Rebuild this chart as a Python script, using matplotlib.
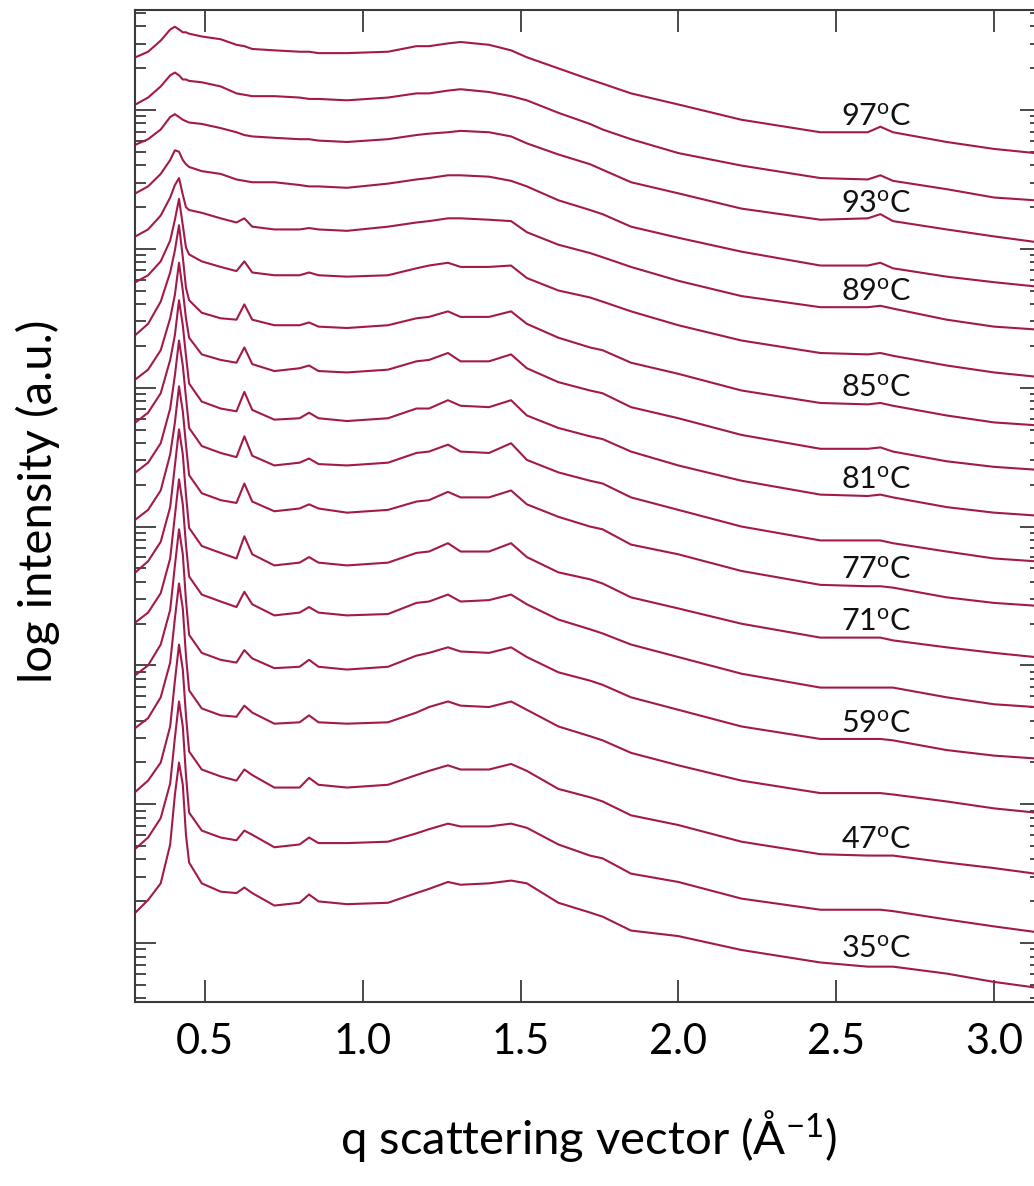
import numpy as np
import matplotlib
matplotlib.use('agg')
import matplotlib.pyplot as plt
from matplotlib.ticker import LogLocator, NullFormatter

plt.rcParams['font.family'] = ['Lato', 'DejaVu Sans']
plt.rcParams['mathtext.fontset'] = 'custom'
plt.rcParams['mathtext.rm'] = 'Lato'
plt.rcParams['mathtext.it'] = 'Lato:italic'

# scattering vector q (1/Angstrom), shared by all curves
q = [0.28, 0.32, 0.36, 0.39, 0.405, 0.418, 0.43, 0.44, 0.45, 0.49,
     0.55, 0.60, 0.625, 0.65, 0.72, 0.80, 0.83, 0.86, 0.95, 1.08,
     1.17, 1.21, 1.27, 1.31, 1.40, 1.47, 1.52, 1.62, 1.72, 1.76,
     1.85, 2.00, 2.20, 2.45, 2.60, 2.64, 2.68, 2.85, 3.00, 3.13]

# log10 intensity (a.u., curves stacked), top curve first
logI_1 = [6.38, 6.42, 6.50, 6.58, 6.60, 6.58, 6.56, 6.56, 6.55, 6.53, 6.51, 6.47, 6.46, 6.44, 6.43, 6.42, 6.42, 6.41, 6.41, 6.42,
          6.46, 6.46, 6.48, 6.49, 6.47, 6.43, 6.38, 6.30, 6.22, 6.19, 6.12, 6.04, 5.93, 5.84, 5.84, 5.88, 5.84, 5.77, 5.72, 5.69]
logI_2 = [6.04, 6.09, 6.17, 6.25, 6.27, 6.25, 6.22, 6.22, 6.21, 6.20, 6.17, 6.12, 6.11, 6.10, 6.10, 6.09, 6.08, 6.08, 6.07, 6.09,
          6.12, 6.12, 6.14, 6.15, 6.13, 6.10, 6.07, 5.98, 5.90, 5.86, 5.79, 5.69, 5.60, 5.51, 5.50, 5.53, 5.49, 5.43, 5.37, 5.35]
logI_3 = [5.75, 5.79, 5.86, 5.95, 5.97, 5.95, 5.93, 5.92, 5.91, 5.90, 5.87, 5.84, 5.82, 5.81, 5.80, 5.79, 5.79, 5.78, 5.77, 5.79,
          5.82, 5.83, 5.84, 5.85, 5.84, 5.81, 5.76, 5.68, 5.61, 5.57, 5.48, 5.40, 5.29, 5.21, 5.22, 5.25, 5.20, 5.14, 5.09, 5.05]
logI_4 = [5.40, 5.45, 5.54, 5.64, 5.71, 5.70, 5.64, 5.61, 5.59, 5.56, 5.54, 5.50, 5.49, 5.48, 5.48, 5.46, 5.45, 5.45, 5.44, 5.47,
          5.50, 5.51, 5.53, 5.53, 5.52, 5.49, 5.45, 5.35, 5.28, 5.25, 5.16, 5.08, 4.98, 4.88, 4.88, 4.90, 4.86, 4.80, 4.76, 4.73]
logI_5 = [5.09, 5.14, 5.24, 5.37, 5.46, 5.51, 5.39, 5.30, 5.28, 5.26, 5.22, 5.19, 5.22, 5.16, 5.14, 5.14, 5.15, 5.14, 5.13, 5.16,
          5.19, 5.20, 5.22, 5.22, 5.21, 5.20, 5.12, 5.03, 4.97, 4.94, 4.87, 4.77, 4.66, 4.58, 4.58, 4.59, 4.57, 4.49, 4.44, 4.42]
logI_6 = [4.76, 4.81, 4.91, 5.06, 5.21, 5.36, 5.17, 5.01, 4.96, 4.91, 4.87, 4.84, 4.91, 4.83, 4.81, 4.81, 4.83, 4.81, 4.80, 4.81,
          4.86, 4.88, 4.90, 4.87, 4.87, 4.88, 4.79, 4.70, 4.65, 4.62, 4.55, 4.45, 4.34, 4.25, 4.24, 4.25, 4.23, 4.16, 4.11, 4.08]
logI_7 = [4.38, 4.46, 4.62, 4.83, 4.99, 5.17, 4.94, 4.72, 4.63, 4.54, 4.50, 4.49, 4.60, 4.49, 4.45, 4.45, 4.47, 4.44, 4.43, 4.45,
          4.50, 4.51, 4.55, 4.51, 4.51, 4.55, 4.46, 4.36, 4.29, 4.27, 4.18, 4.10, 3.98, 3.89, 3.88, 3.89, 3.87, 3.80, 3.75, 3.73]
logI_8 = [4.06, 4.13, 4.27, 4.50, 4.67, 4.90, 4.70, 4.50, 4.36, 4.24, 4.20, 4.18, 4.29, 4.17, 4.12, 4.14, 4.16, 4.12, 4.11, 4.13,
          4.19, 4.20, 4.25, 4.19, 4.19, 4.24, 4.14, 4.04, 3.98, 3.96, 3.86, 3.78, 3.66, 3.56, 3.56, 3.57, 3.54, 3.47, 3.43, 3.41]
logI_9 = [3.75, 3.82, 3.96, 4.20, 4.38, 4.63, 4.45, 4.23, 4.03, 3.90, 3.85, 3.83, 3.97, 3.84, 3.77, 3.78, 3.82, 3.78, 3.76, 3.78,
          3.85, 3.85, 3.91, 3.87, 3.86, 3.91, 3.80, 3.71, 3.65, 3.63, 3.54, 3.44, 3.33, 3.23, 3.22, 3.23, 3.21, 3.14, 3.10, 3.08]
logI_10 = [3.39, 3.46, 3.60, 3.85, 4.09, 4.34, 4.16, 3.93, 3.71, 3.58, 3.53, 3.50, 3.65, 3.51, 3.44, 3.46, 3.49, 3.45, 3.44, 3.46,
           3.53, 3.54, 3.59, 3.54, 3.53, 3.60, 3.48, 3.39, 3.33, 3.31, 3.21, 3.12, 3.00, 2.90, 2.90, 2.90, 2.88, 2.82, 2.77, 2.75]
logI_11 = [3.05, 3.12, 3.26, 3.52, 3.75, 4.01, 3.83, 3.59, 3.37, 3.24, 3.19, 3.17, 3.31, 3.18, 3.11, 3.13, 3.16, 3.13, 3.10, 3.12,
           3.18, 3.19, 3.25, 3.21, 3.21, 3.26, 3.16, 3.07, 3.00, 2.98, 2.87, 2.80, 2.68, 2.58, 2.57, 2.57, 2.56, 2.49, 2.45, 2.43]
logI_12 = [2.67, 2.75, 2.89, 3.14, 3.44, 3.70, 3.52, 3.23, 2.99, 2.86, 2.81, 2.77, 2.93, 2.80, 2.72, 2.74, 2.78, 2.74, 2.72, 2.74,
           2.81, 2.82, 2.88, 2.82, 2.82, 2.88, 2.78, 2.67, 2.62, 2.59, 2.49, 2.41, 2.30, 2.20, 2.20, 2.20, 2.18, 2.13, 2.09, 2.06]
logI_13 = [2.31, 2.38, 2.52, 2.77, 3.08, 3.34, 3.16, 2.87, 2.64, 2.51, 2.46, 2.42, 2.53, 2.44, 2.36, 2.38, 2.42, 2.38, 2.36, 2.37,
           2.45, 2.46, 2.51, 2.46, 2.47, 2.51, 2.44, 2.33, 2.26, 2.23, 2.15, 2.06, 1.94, 1.84, 1.84, 1.84, 1.84, 1.77, 1.72, 1.70]
logI_14 = [1.93, 2.00, 2.15, 2.40, 2.72, 2.98, 2.80, 2.47, 2.22, 2.09, 2.04, 2.02, 2.11, 2.05, 1.98, 1.99, 2.04, 1.99, 1.97, 1.99,
           2.07, 2.09, 2.13, 2.10, 2.09, 2.13, 2.06, 1.95, 1.89, 1.86, 1.77, 1.68, 1.56, 1.47, 1.47, 1.47, 1.46, 1.39, 1.35, 1.33]
logI_15 = [1.55, 1.62, 1.77, 2.02, 2.34, 2.59, 2.41, 2.07, 1.82, 1.69, 1.64, 1.63, 1.71, 1.66, 1.58, 1.59, 1.64, 1.59, 1.58, 1.59,
           1.66, 1.70, 1.74, 1.71, 1.70, 1.74, 1.68, 1.56, 1.49, 1.46, 1.37, 1.28, 1.17, 1.08, 1.08, 1.08, 1.07, 1.02, 0.97, 0.94]
logI_16 = [1.09, 1.17, 1.30, 1.56, 1.89, 2.15, 1.97, 1.64, 1.38, 1.25, 1.20, 1.17, 1.25, 1.21, 1.12, 1.12, 1.19, 1.14, 1.12, 1.14,
           1.21, 1.24, 1.28, 1.25, 1.25, 1.29, 1.24, 1.11, 1.05, 1.02, 0.92, 0.85, 0.73, 0.64, 0.63, 0.63, 0.63, 0.58, 0.54, 0.50]
logI_17 = [0.68, 0.76, 0.90, 1.15, 1.48, 1.74, 1.56, 1.21, 0.94, 0.81, 0.76, 0.74, 0.81, 0.78, 0.69, 0.71, 0.76, 0.72, 0.72, 0.73,
           0.79, 0.82, 0.86, 0.84, 0.84, 0.86, 0.83, 0.71, 0.63, 0.61, 0.50, 0.44, 0.32, 0.24, 0.24, 0.24, 0.23, 0.17, 0.12, 0.08]
logI_18 = [0.22, 0.31, 0.43, 0.71, 1.07, 1.30, 1.14, 0.78, 0.58, 0.43, 0.37, 0.36, 0.40, 0.36, 0.27, 0.29, 0.35, 0.30, 0.28, 0.29,
           0.36, 0.39, 0.44, 0.42, 0.43, 0.45, 0.43, 0.29, 0.22, 0.19, 0.09, 0.05, -0.05, -0.14, -0.17, -0.17, -0.17, -0.22, -0.28, -0.32]

# temperature labels (only some curves are labelled in the figure)
temps = ['97', '', '93', '', '89', '', '85', '', '81', '', '77', '71', '', '59', '', '47', '', '35']

xticks = [0.5, 1.0, 1.5, 2.0, 2.5, 3.0]

series = [logI_1, logI_2, logI_3, logI_4, logI_5, logI_6, logI_7, logI_8, logI_9,
          logI_10, logI_11, logI_12, logI_13, logI_14, logI_15, logI_16, logI_17, logI_18]

fig = plt.figure(figsize=(10.34, 11.86), dpi=100)
ax = fig.add_axes([0.1310, 0.1551, 0.8761, 0.8364])

line_color = '#A3194B'
q_arr = np.array(q)
for vals, t in zip(series, temps):
    inten = 10 ** np.array(vals)
    ax.plot(q_arr, inten, color=line_color, lw=1.5)
    if t:
        y_lab = 10 ** np.interp(2.515, q_arr, vals)
        ax.annotate(t + r'$^{\mathrm{o}}$C', xy=(2.515, y_lab), xytext=(0, 4.5),
                    textcoords='offset points', ha='left', va='baseline',
                    fontsize=22, color='#111111')

ax.set_yscale('log')
ax.set_xlim(0.28, 3.15)
ax.set_ylim(10 ** -0.425, 10 ** 6.72)

ax.set_xticks(xticks)
ax.set_xticklabels(['%.1f' % v for v in xticks])
ax.yaxis.set_major_locator(LogLocator(base=10, numticks=20))
ax.yaxis.set_minor_locator(LogLocator(base=10, subs=np.arange(2, 10), numticks=20))
ax.yaxis.set_major_formatter(NullFormatter())
ax.yaxis.set_minor_formatter(NullFormatter())

spine_color = '#3a3a3a'
for s in ax.spines.values():
    s.set_color(spine_color)
    s.set_linewidth(1.5)

ax.tick_params(axis='x', which='major', direction='in', length=16, width=1.3,
               top=True, bottom=True, labelsize=30, pad=15, color=spine_color)
ax.tick_params(axis='y', which='major', direction='in', length=15, width=1.3,
               left=True, right=True, color=spine_color)
ax.tick_params(axis='y', which='minor', direction='in', length=8, width=1.3,
               left=True, right=True, color=spine_color)

ax.set_xlabel(r'q scattering vector (Å$^{\mathrm{-1}}$)', fontsize=34, labelpad=34)
ax.set_ylabel('log intensity (a.u.)', fontsize=34)
ax.yaxis.set_label_coords(-0.083, 0.505)

fig.savefig('out.png', dpi=100)
